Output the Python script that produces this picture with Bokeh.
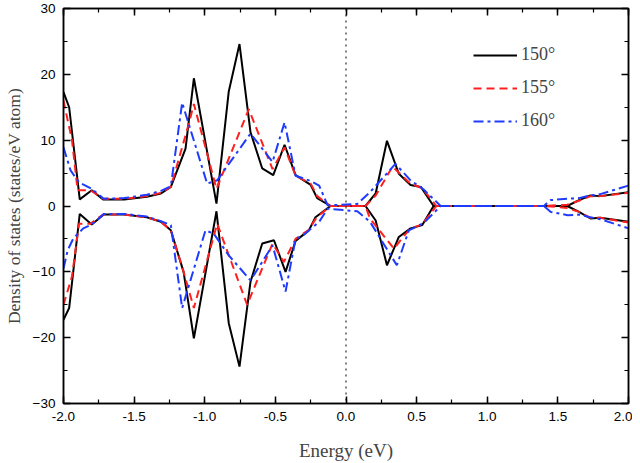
from bokeh.plotting import figure
from bokeh.models import (LinearAxis, Span, Legend, LegendItem, NumeralTickFormatter,
                          SingleIntervalTicker, Range1d)
from bokeh.embed import file_html
from bokeh.resources import INLINE

# ---------------- data ----------------
e_150_up = [-2.0, -1.96, -1.885, -1.80, -1.72, -1.57, -1.41, -1.31, -1.24, -1.136, -1.077, -0.917,
            -0.83, -0.754, -0.676, -0.593, -0.515, -0.435, -0.357, -0.25, -0.204, -0.11, 0.138,
            0.21, 0.29, 0.374, 0.457, 0.53, 0.62, 1.41, 1.566, 1.65, 1.73, 1.80, 2.0]
dos_150_up = [17.3, 15.0, 1.0, 2.4, 1.0, 1.0, 1.4, 1.9, 2.9, 8.7, 19.4, 0.35,
              17.4, 24.6, 11.2, 5.7, 4.7, 9.3, 4.7, 3.2, 1.2, 0.0, 0.0,
              1.9, 9.9, 4.9, 3.2, 2.9, 0.0, 0.0, 0.0, 0.9, 1.6, 1.5, 2.1]
e_150_dn = [-2.0, -1.96, -1.885, -1.80, -1.715, -1.57, -1.41, -1.31, -1.24, -1.15, -1.077, -0.917,
            -0.83, -0.754, -0.676, -0.593, -0.51, -0.428, -0.357, -0.263, -0.216, -0.11, 0.138,
            0.21, 0.29, 0.374, 0.457, 0.54, 0.62, 1.41, 1.566, 1.65, 1.73, 1.80, 2.0]
dos_150_dn = [-17.3, -15.5, -1.2, -2.8, -1.3, -1.3, -1.7, -2.4, -3.7, -10.0, -20.1, -0.8,
              -17.8, -24.4, -11.5, -5.7, -5.2, -10.0, -5.3, -3.7, -1.7, 0.0, 0.0,
              -2.2, -9.0, -4.7, -3.4, -2.9, 0.0, 0.0, 0.0, -0.9, -1.9, -1.8, -2.4]

e_155_up = [-2.0, -1.94, -1.90, -1.81, -1.72, -1.57, -1.41, -1.31, -1.24, -1.11, -1.077, -0.917,
            -0.688, -0.52, -0.435, -0.357, -0.25, -0.204, -0.11, 0.138, 0.21, 0.33, 0.40,
            0.457, 0.54, 0.64, 1.41, 1.566, 1.65, 1.73, 1.80, 2.0]
dos_155_up = [16.0, 10.0, 2.4, 2.4, 1.1, 1.1, 1.5, 2.0, 2.9, 12.7, 15.5, 2.6,
              14.7, 5.6, 8.9, 4.6, 3.4, 1.5, 0.0, 0.0, 1.6, 6.0, 4.5,
              3.4, 2.7, 0.0, 0.0, 0.2, 0.8, 1.5, 1.5, 2.0]
e_155_dn = [-2.0, -1.94, -1.89, -1.81, -1.72, -1.57, -1.41, -1.31, -1.24, -1.15, -1.077, -0.912,
            -0.70, -0.52, -0.44, -0.357, -0.263, -0.21, -0.11, 0.138, 0.17, 0.34, 0.40,
            0.457, 0.54, 0.64, 1.41, 1.566, 1.65, 1.73, 1.80, 2.0]
dos_155_dn = [-15.0, -10.7, -2.7, -2.7, -1.3, -1.3, -1.7, -2.4, -3.7, -10.0, -15.5, -2.7,
              -15.0, -5.7, -8.5, -5.0, -3.6, -1.8, 0.0, 0.0, -1.9, -6.5, -4.8,
              -3.4, -2.8, 0.0, 0.0, -0.3, -0.9, -1.8, -1.8, -2.5]

e_160_up = [-2.0, -1.95, -1.89, -1.80, -1.715, -1.57, -1.41, -1.31, -1.24, -1.16, -0.983, -0.912,
            -0.676, -0.52, -0.435, -0.357, -0.25, -0.19, -0.13, 0.08, 0.17, 0.35, 0.457,
            0.55, 0.67, 1.40, 1.45, 1.57, 1.65, 1.73, 1.80, 2.0]
dos_160_up = [8.9, 5.4, 3.6, 2.6, 1.1, 1.2, 1.7, 2.3, 3.0, 15.7, 3.4, 3.9,
              11.0, 6.7, 12.7, 4.6, 3.8, 3.1, 0.1, 0.3, 2.1, 6.4, 3.9,
              2.5, 0.0, 0.0, 0.9, 1.1, 1.2, 1.6, 1.8, 3.1]
e_160_dn = [-2.0, -1.97, -1.93, -1.86, -1.80, -1.715, -1.57, -1.41, -1.31, -1.24, -1.16, -0.995,
            -0.936, -0.83, -0.676, -0.52, -0.428, -0.357, -0.3, -0.19, -0.13, 0.08, 0.17,
            0.36, 0.445, 0.55, 0.67, 1.40, 1.45, 1.57, 1.65, 1.73, 1.80, 2.0]
dos_160_dn = [-9.5, -6.7, -4.9, -3.4, -2.8, -1.2, -1.2, -1.6, -2.3, -2.9, -15.5, -3.7,
              -4.2, -7.5, -11.3, -6.0, -13.0, -5.0, -4.4, -2.4, -0.4, -0.8, -2.4,
              -9.0, -3.7, -2.6, 0.0, 0.0, -0.9, -1.4, -1.3, -1.7, -2.0, -3.4]

labels = ["150\u00b0", "155\u00b0", "160\u00b0"]
x_label = "Energy (eV)"
y_label = "Density of states (states/eV atom)"

# ---------------- figure ----------------
p = figure(width=632, height=463, output_backend="svg", toolbar_location=None,
           x_range=Range1d(-2.0, 2.0), y_range=Range1d(-30, 30),
           min_border_left=10, min_border_right=4, min_border_top=8, min_border_bottom=10)
p.xgrid.visible = False
p.ygrid.visible = False
p.outline_line_color = "black"
p.outline_line_width = 1.5
p.background_fill_color = "white"
p.border_fill_color = "white"

serif = "Liberation Serif"
sans = "Liberation Sans"


def style_axis(ax, show_labels):
    ax.axis_line_width = 1.5
    ax.major_tick_in = 7
    ax.major_tick_out = 0
    ax.minor_tick_in = 4
    ax.minor_tick_out = 0
    ax.major_tick_line_width = 1.5
    ax.minor_tick_line_width = 1.2
    ax.major_label_text_font = sans
    if show_labels:
        ax.major_label_text_font_size = "13.5px"
        ax.major_label_text_color = "black"
        ax.major_label_standoff = 8
    else:
        ax.major_label_text_font_size = "1px"
        ax.major_label_text_color = None
        ax.major_label_standoff = 0


xt = SingleIntervalTicker(interval=0.5, num_minor_ticks=2)
yt = SingleIntervalTicker(interval=10, num_minor_ticks=2)

p.xaxis.ticker = xt
p.yaxis.ticker = yt
p.xaxis.formatter = NumeralTickFormatter(format="0.0")
for ax in p.xaxis + p.yaxis:
    style_axis(ax, True)
p.xaxis.axis_label = x_label
p.yaxis.axis_label = y_label
for ax in p.xaxis + p.yaxis:
    ax.axis_label_text_font = serif
    ax.axis_label_text_font_style = "normal"
p.xaxis.axis_label_text_font_size = "19px"
p.yaxis.axis_label_text_font_size = "17.5px"
p.xaxis.axis_label_standoff = 16
p.yaxis.axis_label_standoff = 6

top = LinearAxis(ticker=SingleIntervalTicker(interval=0.5, num_minor_ticks=2))
right = LinearAxis(ticker=SingleIntervalTicker(interval=10, num_minor_ticks=2))
style_axis(top, False)
style_axis(right, False)
p.add_layout(top, "above")
p.add_layout(right, "right")

p.add_layout(Span(location=0, dimension="height", line_color="black",
                  line_dash="dotted", line_width=1))

black = "black"
red = "#FF1F1F"
blue = "#1F3BFF"
lw = 2.0

r150a = p.line(e_150_up, dos_150_up, line_color=black, line_width=lw)
p.line(e_150_dn, dos_150_dn, line_color=black, line_width=lw)
r155a = p.line(e_155_up, dos_155_up, line_color=red, line_width=lw, line_dash="8 5")
p.line(e_155_dn, dos_155_dn, line_color=red, line_width=lw, line_dash="8 5")
r160a = p.line(e_160_up, dos_160_up, line_color=blue, line_width=lw, line_dash="10 4 3 4")
p.line(e_160_dn, dos_160_dn, line_color=blue, line_width=lw, line_dash="10 4 3 4")

legend = Legend(items=[LegendItem(label=labels[0], renderers=[r150a]),
                       LegendItem(label=labels[1], renderers=[r155a]),
                       LegendItem(label=labels[2], renderers=[r160a])],
                location=(410, 272), border_line_color=None, background_fill_alpha=0,
                padding=0, spacing=12, glyph_width=44, glyph_height=20, label_height=20,
                label_standoff=4, label_text_font=serif, label_text_font_size="18px",
                margin=0)
p.add_layout(legend, "center")

open("out.html", "w").write(file_html(p, INLINE))
